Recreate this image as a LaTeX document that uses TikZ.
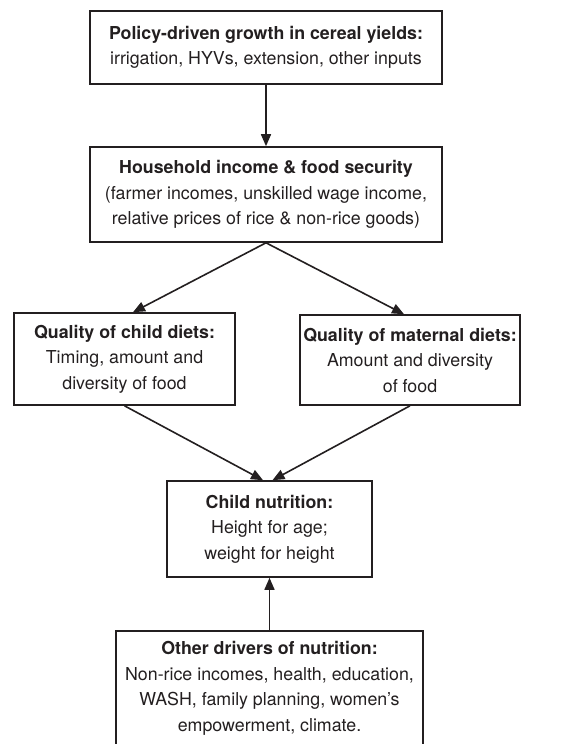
\documentclass[tikz,border=0pt]{standalone}
\usepackage{fontspec}
\setmainfont{TeX Gyre Heros}
\usetikzlibrary{arrows.meta,calc}
\definecolor{ink}{HTML}{231F20}
\begin{document}
\begin{tikzpicture}[x=1pt,y=-1pt,
  box/.style={draw=ink,line width=1.6pt,inner sep=0pt,align=center,text=ink,
    font=\fontsize{17.8}{25.5}\selectfont},
  conn/.style={draw=ink,line width=1.6pt,-{Triangle[length=12pt,width=10pt]}}]
\useasboundingbox (0,0) rectangle (584,744);
\node[box,minimum width=352pt,minimum height=73pt] (b1) at (266,47.5)
  {\textbf{Policy-driven growth in cereal yields:}\\irrigation, HYVs, extension, other inputs};
\node[box,minimum width=352pt,minimum height=95pt] (b2) at (266,194.5)
  {\textbf{Household income \& food security}\\(farmer incomes, unskilled wage income,\\relative prices of rice \& non-rice goods)};
\node[box,minimum width=221pt,minimum height=92pt] (b3) at (124.5,359)
  {\textbf{Quality of child diets:}\\Timing, amount and\\diversity of food};
\node[box,minimum width=220pt,minimum height=90pt] (b4) at (410,360)
  {\textbf{Quality of maternal diets:}\\Amount and diversity\\of food};
\node[box,minimum width=205pt,minimum height=96pt] (b5) at (269.5,529)
  {\textbf{Child nutrition:}\\Height for age;\\weight for height};
\node[box,draw=none,minimum width=305pt,minimum height=113pt] (b6) at (269.5,688.5)
  {\textbf{Other drivers of nutrition:}\\Non-rice incomes, health, education,\\WASH, family planning, women’s\\empowerment, climate.};
\draw[draw=ink,line width=1.6pt] (b6.south west) -- (b6.north west) -- (b6.north east) -- (b6.south east);
\draw[conn] (b1.south) -- (b2.north);
\draw[conn] (b2.south) -- ($(b3.north)+(8.5,0)$);
\draw[conn] (b2.south) -- ($(b4.north)+(-6,0)$);
\draw[conn] (b3.south) -- ($(b5.north)+(-6.5,0)$);
\draw[conn] (b4.south) -- ($(b5.north)+(3,0)$);
\draw[conn] (b6.north) -- (b5.south);
\end{tikzpicture}
\end{document}
